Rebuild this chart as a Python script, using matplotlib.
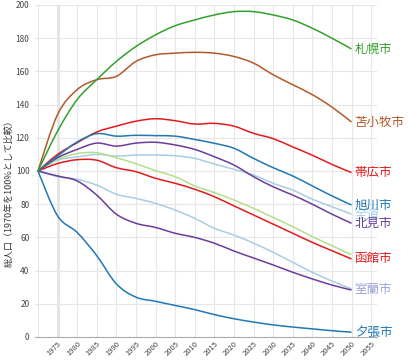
import numpy as np
import matplotlib.pyplot as plt
from matplotlib.path import Path
from matplotlib.patches import PathPatch

plt.rcParams['font.family'] = ['Noto Sans CJK JP', 'DejaVu Sans']

# 1970年を100とした総人口の推移
years = list(range(1970, 2051, 5))

sapporo = [100, 124, 143, 155, 166, 175, 182, 187.5, 191, 194, 196, 196, 194, 191, 186, 180, 173.5]
tomakomai = [100, 134, 149, 155, 157, 166, 170, 171, 171.5, 171, 169, 165, 158, 152, 146, 138.5, 129.5]
obihiro = [100, 110, 117, 123.5, 127, 130, 131.5, 130.3, 128.3, 128.7, 127, 122.7, 119.5, 114.5, 109.5, 104, 99]
asahikawa = [100, 109, 117.5, 122.5, 121, 121.5, 121.3, 121, 119, 116.7, 113.7, 107.6, 102, 97, 91, 85, 79.5]
hokkaido = [100, 106.5, 108.5, 110, 109, 109.6, 109.6, 109.2, 107.6, 104.2, 101, 97.6, 92.6, 88.5, 83, 78.5, 74]
kitami = [100, 108, 113, 116.8, 115, 116.8, 117.3, 115.7, 113, 108.6, 103.6, 96.6, 90.5, 85.5, 80, 74, 68.5]
hakodate = [100, 104.5, 106.8, 106.5, 102, 99.6, 95.6, 92.6, 89, 84.5, 79, 73.5, 68, 62.5, 57, 52, 47]
green2 = [100, 107, 110.5, 111, 108, 104.4, 100.2, 96.6, 91, 87, 82.5, 77.5, 72, 66.5, 60.5, 55, 49.5]
muroran = [100, 96.6, 95, 91.5, 86, 83.5, 80.5, 76.5, 71.5, 65.5, 61.4, 56.6, 51, 45, 39, 33.7, 29]
purple2 = [100, 97, 94, 85.5, 74, 68.5, 66, 62.5, 60, 56.5, 51.8, 47.6, 43.4, 39, 35, 31.3, 28.3]
yubari = [100, 73, 63, 49, 32, 24, 21.5, 19, 16.5, 13.5, 11, 9, 7.3, 6, 4.9, 3.8, 2.9]

# (値, 色, ラベル, ラベル位置の値)
series = [
    (hokkaido, '#a6cee3', '全道', 74),
    (muroran, '#a6cee3', None, None),
    (green2, '#b2df8a', None, None),
    (purple2, '#6a3d9a', None, None),
    (kitami, '#6a3d9a', '北見市', 68.5),
    (hakodate, '#e31a1c', '函館市', 47),
    (obihiro, '#e31a1c', '帯広市', 99),
    (asahikawa, '#1f78b4', '旭川市', 79.5),
    (yubari, '#1f78b4', '夕張市', 2.9),
    (tomakomai, '#b15928', '苫小牧市', 129.5),
    (sapporo, '#33a02c', '札幌市', 173.5),
]


def smooth_path(xs, ys):
    # Catmull-Rom -> ベジェ曲線
    pts = np.column_stack([xs, ys]).astype(float)
    n = len(pts)
    verts = [pts[0]]
    codes = [Path.MOVETO]
    for i in range(n - 1):
        p0 = pts[max(i - 1, 0)]
        p1 = pts[i]
        p2 = pts[i + 1]
        p3 = pts[min(i + 2, n - 1)]
        verts += [p1 + (p2 - p0) / 6, p2 - (p3 - p1) / 6, p2]
        codes += [Path.CURVE4] * 3
    return Path(verts, codes)


fig = plt.figure(figsize=(4.08, 3.6), dpi=100)
ax = fig.add_axes([35 / 408, 23 / 360, 342 / 408, 332 / 360])

for vals, color, name, ly in series:
    ax.add_patch(PathPatch(smooth_path(years, vals), fill=False, edgecolor=color, lw=1.1))
    if name:
        ax.text(2050.8, ly, name, color=color, fontsize=9, va='center', ha='left', clip_on=False)

ax.text(2050.8, 28.7, '室蘭市', color='#9aa3d8', fontsize=9, va='center', ha='left', clip_on=False)

ax.set_xlim(1969.25, 2056.5)
ax.set_ylim(0, 200)
ax.set_xticks(range(1975, 2056, 5))
ax.set_yticks(range(0, 201, 20))
ax.tick_params(axis='x', labelrotation=45, labelsize=5.5, length=0, pad=2, colors='#444444')
ax.tick_params(axis='y', labelsize=6, length=0, pad=4, colors='#444444')
for lab in ax.get_xticklabels():
    lab.set_ha('right')
    lab.set_rotation_mode('anchor')

ax.grid(color='#e6e6e6', lw=0.8)
ax.axvline(1975, color='#dcdcdc', lw=1.8, zorder=0)
ax.axvline(1970, color='#e6e6e6', lw=0.8, zorder=0)
ax.set_axisbelow(True)
for s in ['top', 'right', 'left']:
    ax.spines[s].set_visible(False)
ax.spines['bottom'].set_color('#aaaaaa')

ax.set_ylabel('総人口（1970年を100%として比較）', fontsize=6.5, color='#333333')
ax.yaxis.set_label_coords(-0.062, 0.44)

fig.savefig('out.png', dpi=100)
